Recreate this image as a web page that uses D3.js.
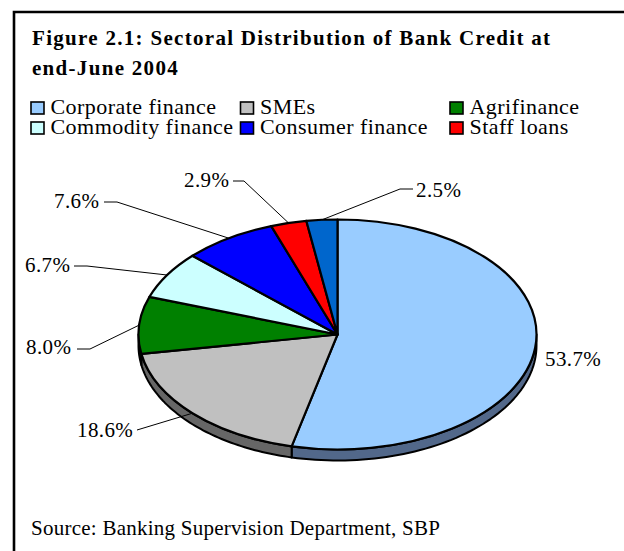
<!DOCTYPE html>
<html>
<head>
<meta charset="utf-8">
<script src="https://cdn.jsdelivr.net/npm/d3@7"></script>
<style>
  html, body { margin: 0; padding: 0; background: #fff; overflow: hidden; }
  svg { display: block; font-family: "Liberation Serif", serif; }
</style>
</head>
<body>
<svg id="chart" width="624" height="551"></svg>
<script>
const titleLines = ["Figure 2.1: Sectoral Distribution of Bank Credit at", "end-June 2004"];
const sectors = ["Corporate finance", "SMEs", "Agrifinance", "Commodity finance", "Consumer finance", "Staff loans", "Other"];
const shares = [53.7, 18.6, 8.0, 6.7, 7.6, 2.9, 2.5];
const sliceColors = ["#99ccff", "#c0c0c0", "#008000", "#ccffff", "#0000ff", "#ff0000", "#0066cc"];
const wallColors = ["#52688a", "#666666", "#004d00", "#7a9999", "#000099", "#990000", "#003d7a"];
const legendEntries = sectors.slice(0, 6);
const sourceNote = "Source: Banking Supervision Department, SBP";

const svg = d3.select("#chart");

// Frame: only the left and top rules fall inside the page
svg.append("path").attr("d", "M14,551V12H624")
  .attr("fill", "none").attr("stroke", "#000").attr("stroke-width", 2.6);

// Title
svg.append("g").selectAll("text").data(titleLines).join("text")
  .attr("x", 32).attr("y", (d, i) => 45 + i * 30)
  .attr("font-size", 21).attr("font-weight", "bold").attr("letter-spacing", 1.3)
  .attr("fill", "#000").text(d => d);

// Legend: three columns, two rows
const legendX = d3.scalePoint().domain([0, 1, 2]).range([31, 450]);
const legendY = d3.scalePoint().domain([0, 1]).range([101, 121]);
const legend = svg.append("g").selectAll("g").data(legendEntries).join("g")
  .attr("transform", (d, i) => `translate(${legendX(i % 3)},${legendY(Math.floor(i / 3))})`);
legend.append("rect").attr("x", 0).attr("y", 1).attr("width", 13).attr("height", 12)
  .attr("fill", (d, i) => sliceColors[i]).attr("stroke", "#000").attr("stroke-width", 1.6);
legend.append("text").attr("x", 19.5).attr("y", 12.5).attr("font-size", 22)
  .attr("letter-spacing", 0.45).attr("fill", "#000").text(d => d);

// Tilted pie: a circle flattened vertically, with a wall under its front edge
const cx = 337.5, cy = 334.5, rx = 199, ry = 115, depth = 11;
const pie = d3.pie().value(d => d).sort(null);
const arcs = pie(shares);
const rim = a => [cx + rx * Math.sin(a), cy - ry * Math.cos(a)];

const wallPath = (a0, a1) => {
  const from = Math.max(a0, Math.PI / 2), to = Math.min(a1, 3 * Math.PI / 2);
  if (to <= from) return null;
  const samples = d3.range(0, 61).map(i => from + (to - from) * i / 60);
  const top = samples.map(rim);
  const bottom = samples.slice().reverse().map(a => { const p = rim(a); return [p[0], p[1] + depth]; });
  return d3.line()(top.concat(bottom)) + "Z";
};

const walls = svg.append("g");
arcs.forEach((d, i) => {
  const p = wallPath(d.startAngle, d.endAngle);
  if (p) walls.append("path").attr("d", p).attr("fill", wallColors[i])
    .attr("stroke", "#000").attr("stroke-width", 2).attr("stroke-linejoin", "round");
});

const arcGen = d3.arc().innerRadius(0).outerRadius(rx);
svg.append("g").attr("transform", `translate(${cx},${cy}) scale(1,${ry / rx})`)
  .selectAll("path").data(arcs).join("path")
  .attr("d", arcGen)
  .attr("fill", (d, i) => sliceColors[i])
  .attr("stroke", "#000").attr("stroke-width", 2.2).attr("stroke-linejoin", "round")
  .attr("vector-effect", "non-scaling-stroke");

// Percentage labels with leader lines running to the rim of each slice
const labelLayout = [
  { x: 545, y: 366, via: null },
  { x: 77,  y: 437, via: [[137, 430]] },
  { x: 26,  y: 354, via: [[77, 349], [90, 349]] },
  { x: 25,  y: 272, via: [[74, 266], [87, 266]] },
  { x: 54,  y: 208, via: [[104, 202], [117, 202]] },
  { x: 184, y: 187, via: [[233, 181], [244, 181]] },
  { x: 416, y: 197, via: [[413, 189], [400, 189]] }
];
const labels = svg.append("g");
arcs.forEach((d, i) => {
  const spot = labelLayout[i];
  if (spot.via) {
    const mid = (d.startAngle + d.endAngle) / 2;
    labels.append("path")
      .attr("d", d3.line()(spot.via.concat([rim(mid)])))
      .attr("fill", "none").attr("stroke", "#000").attr("stroke-width", 1);
  }
  labels.append("text").attr("x", spot.x).attr("y", spot.y)
    .attr("font-size", 21).attr("letter-spacing", 0.4).attr("fill", "#000")
    .text(d3.format(".1f")(d.data) + "%");
});

// Source note
svg.append("text").attr("x", 31).attr("y", 535).attr("font-size", 21)
  .attr("letter-spacing", 0.25).attr("fill", "#000").text(sourceNote);
</script>
</body>
</html>
